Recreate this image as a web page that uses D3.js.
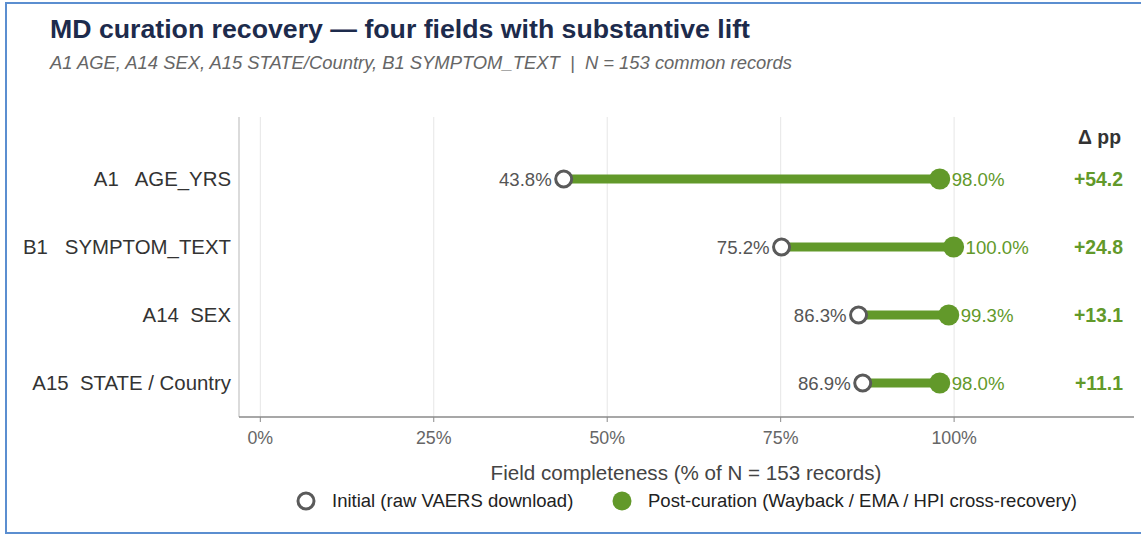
<!DOCTYPE html>
<html>
<head>
<meta charset="utf-8">
<script src="https://cdn.jsdelivr.net/npm/d3@7"></script>
<style>
  html, body { margin: 0; padding: 0; background: #fff; }
  svg { display: block; font-family: "Liberation Sans", Arial, sans-serif; }
</style>
</head>
<body>
<svg id="chart"></svg>
<script>
const fields = ["A1   AGE_YRS", "B1   SYMPTOM_TEXT", "A14  SEX", "A15  STATE / Country"];
const initialPct = [43.8, 75.2, 86.3, 86.9];
const postPct = [98.0, 100.0, 99.3, 98.0];
const deltaPP = [54.2, 24.8, 13.1, 11.1];
const xTicks = [0, 25, 50, 75, 100];

let width = 1141, height = 536;
var margin = {top: 117, right: 7, bottom: 119, left: 239};

const green = "#62992a", grey = "#5a5a5a";

let svg = d3.select("#chart").attr("width", width).attr("height", height);

// frame
svg.append("rect")
    .attr("x", 6).attr("y", 3)
    .attr("width", 1140).attr("height", 530)
    .attr("fill", "none")
    .attr("stroke", "#5b8ed0")
    .attr("stroke-width", 2);

// titles
svg.append("text")
    .attr("x", 50).attr("y", 38)
    .style("font-size", "26.7px").style("font-weight", "bold")
    .style("fill", "#1d2b4c")
    .text("MD curation recovery \u2014 four fields with substantive lift");

svg.append("text")
    .attr("x", 50).attr("y", 69)
    .style("font-size", "18.4px").style("font-style", "italic")
    .style("fill", "#666")
    .style("white-space", "pre")
    .text("A1 AGE, A14 SEX, A15 STATE/Country, B1 SYMPTOM_TEXT  |  N = 153 common records");

const xScale = d3.scaleLinear()
    .domain([-3, 126])
    .range([margin.left, width - margin.right]);

const yScale = d3.scaleBand()
    .domain(fields)
    .range([145, height - margin.bottom])
    .paddingInner(0);

const yc = d => yScale(d) + yScale.bandwidth() / 2;

// gridlines
svg.append("g")
    .selectAll("line")
    .data(xTicks)
    .enter()
    .append("line")
    .attr("x1", d => xScale(d) + 0.5)
    .attr("x2", d => xScale(d) + 0.5)
    .attr("y1", margin.top)
    .attr("y2", height - margin.bottom)
    .attr("stroke", "#e6e6e6")
    .attr("stroke-width", 1);

// left spine
svg.append("line")
    .attr("x1", margin.left).attr("x2", margin.left)
    .attr("y1", margin.top).attr("y2", height - margin.bottom)
    .attr("stroke", "#cfcfcf").attr("stroke-width", 1.5);

// x axis
let xAxis = svg.append("g")
    .attr("transform", "translate(0," + (height - margin.bottom) + ")")
    .call(d3.axisBottom(xScale).tickValues(xTicks).tickFormat(d => d + "%").tickSize(5).tickPadding(9));
xAxis.select(".domain").attr("stroke", "#8a8a8a").attr("stroke-width", 1.5)
    .attr("d", "M" + margin.left + ",0H" + (width - margin.right));
xAxis.selectAll(".tick line").attr("stroke", "#8a8a8a");
xAxis.selectAll(".tick text")
    .style("font-size", "17.8px").style("font-family", "Liberation Sans, Arial, sans-serif")
    .style("fill", "#666");

// category labels
svg.append("g")
    .selectAll("text")
    .data(fields)
    .enter()
    .append("text")
    .attr("x", 231)
    .attr("y", d => yc(d))
    .attr("dy", "0.35em")
    .attr("text-anchor", "end")
    .style("white-space", "pre")
    .style("font-size", "20.4px")
    .style("fill", "#333")
    .text(d => d);

let rows = fields.map((f, i) => ({field: f, init: initialPct[i], post: postPct[i], delta: deltaPP[i]}));

// connecting bars
svg.append("g")
    .selectAll("line")
    .data(rows)
    .enter()
    .append("line")
    .attr("x1", d => xScale(d.init))
    .attr("x2", d => xScale(d.post))
    .attr("y1", d => yc(d.field))
    .attr("y2", d => yc(d.field))
    .attr("stroke", green)
    .attr("stroke-width", 9);

// post circles
svg.append("g")
    .selectAll("circle")
    .data(rows)
    .enter()
    .append("circle")
    .attr("cx", d => xScale(d.post))
    .attr("cy", d => yc(d.field))
    .attr("r", 10.5)
    .attr("fill", green);

// initial circles
svg.append("g")
    .selectAll("circle")
    .data(rows)
    .enter()
    .append("circle")
    .attr("cx", d => xScale(d.init))
    .attr("cy", d => yc(d.field))
    .attr("r", 8)
    .attr("fill", "#fff")
    .attr("stroke", grey)
    .attr("stroke-width", 3);

// value labels
svg.append("g")
    .selectAll("text")
    .data(rows)
    .enter()
    .append("text")
    .attr("x", d => xScale(d.init) - 12)
    .attr("y", d => yc(d.field))
    .attr("dy", "0.35em")
    .attr("text-anchor", "end")
    .style("font-size", "18.6px")
    .style("fill", "#555")
    .text(d => d.init.toFixed(1) + "%");

svg.append("g")
    .selectAll("text")
    .data(rows)
    .enter()
    .append("text")
    .attr("x", d => xScale(d.post) + 12)
    .attr("y", d => yc(d.field))
    .attr("dy", "0.35em")
    .style("font-size", "18.6px")
    .style("fill", green)
    .text(d => d.post.toFixed(1) + "%");

// delta column
svg.append("text")
    .attr("x", 1121).attr("y", 137)
    .attr("dy", "0.35em")
    .attr("text-anchor", "end")
    .style("font-size", "19.4px").style("font-weight", "bold")
    .style("fill", "#333")
    .text("\u0394 pp");

svg.append("g")
    .selectAll("text")
    .data(rows)
    .enter()
    .append("text")
    .attr("x", 1123)
    .attr("y", d => yc(d.field))
    .attr("dy", "0.35em")
    .attr("text-anchor", "end")
    .style("font-size", "19.4px").style("font-weight", "bold")
    .style("fill", green)
    .text(d => "+" + d.delta.toFixed(1));

// axis title
svg.append("text")
    .attr("x", 686).attr("y", 473)
    .attr("dy", "0.35em")
    .attr("text-anchor", "middle")
    .style("font-size", "20.6px")
    .style("fill", "#444")
    .text("Field completeness (% of N = 153 records)");

// legend
let legend = svg.append("g").attr("transform", "translate(0,501)");
legend.append("circle").attr("cx", 306).attr("cy", 0).attr("r", 8)
    .attr("fill", "#fff").attr("stroke", grey).attr("stroke-width", 3);
legend.append("text").attr("x", 332).attr("y", 0).attr("dy", "0.35em")
    .style("font-size", "18.5px").style("fill", "#222")
    .text("Initial (raw VAERS download)");
legend.append("circle").attr("cx", 622).attr("cy", 0).attr("r", 9.5)
    .attr("fill", green);
legend.append("text").attr("x", 648).attr("y", 0).attr("dy", "0.35em")
    .style("font-size", "18.5px").style("fill", "#222")
    .text("Post-curation (Wayback / EMA / HPI cross-recovery)");
</script>
</body>
</html>
